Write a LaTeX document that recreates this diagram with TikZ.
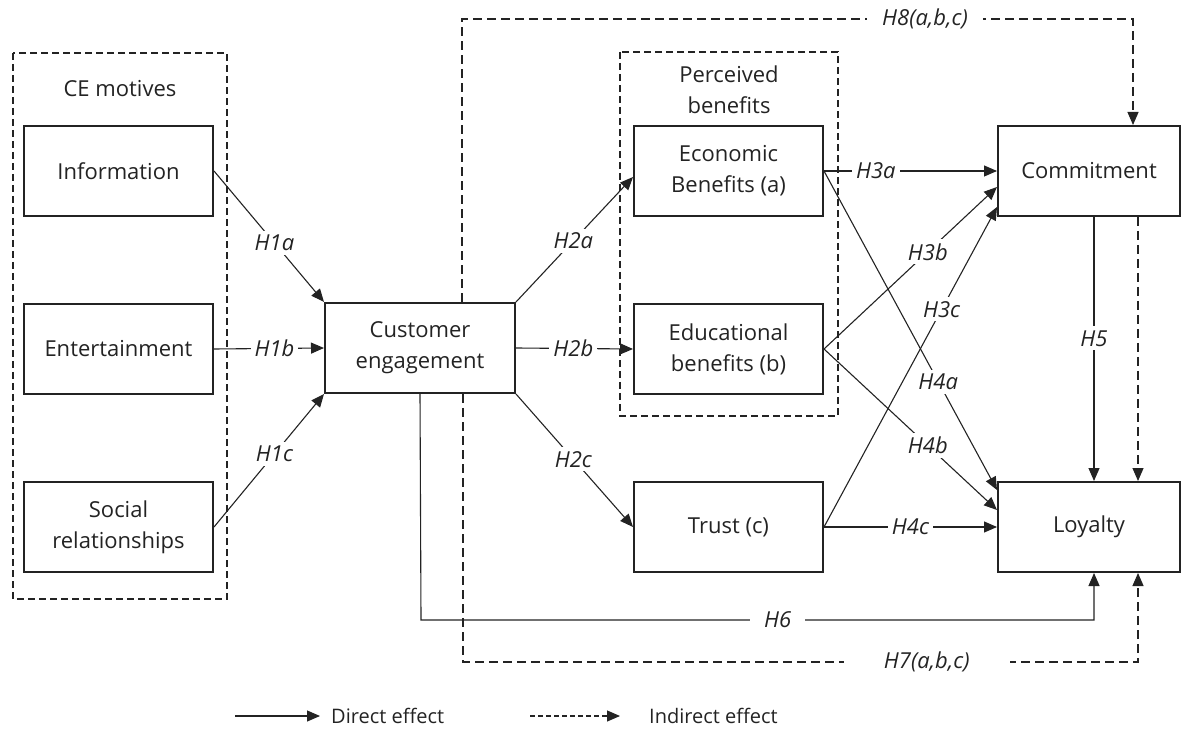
\documentclass[tikz,border=0pt]{standalone}
\usepackage{fontspec}
\setmainfont{Open Sans}
\usetikzlibrary{arrows.meta,positioning}
\definecolor{ink}{RGB}{35,35,35}

\begin{document}
\begin{tikzpicture}[x=0.5pt,y=-0.5pt,->,>={Triangle[length=6.5pt,width=5.5pt]},line width=0.55pt,color=ink,node distance=89pt,font=\fontsize{11}{15.5}\selectfont]
	\tikzstyle{box}=[draw,line width=1pt,minimum width=94.5pt,minimum height=45pt,align=center,inner sep=2pt]
	\tikzstyle{hyp}=[fill=white,font=\fontsize{11}{13}\selectfont\itshape,inner sep=2pt]
	\tikzstyle{indir}=[dash pattern=on 4.5pt off 2.5pt]
	\tikzstyle{group}=[draw,-,line width=1pt,dash pattern=on 3.5pt off 2pt]
	\tikzstyle{key}=[anchor=west,font=\fontsize{10}{12}\selectfont]

	\useasboundingbox (0,0) rectangle (1181,742);

	% dashed groups
	\draw[group] (13,53) rectangle (227,599);
	\draw[group] (620,52) rectangle (838,416);
	\node (motives) at (120,89) {CE motives};
	\node[align=center] (perceived) at (729,90) {Perceived\\benefits};

	\node[box] (info) at (118.5,171) {Information};
	\node[box] (ent) [below of=info] {Entertainment};
	\node[box] (soc) [below of=ent] {Social\\relationships};
	\node[box,minimum width=95pt] (ce) at (420,348) {Customer\\engagement};
	\node[box] (econ) at (728.5,171) {Economic\\Benefits (a)};
	\node[box] (edu) [below of=econ] {Educational\\benefits (b)};
	\node[box] (trust) [below of=edu] {Trust (c)};
	\node[box,minimum width=91pt] (comm) at (1089,171) {Commitment};
	\node[box,minimum width=91pt] (loyal) at (1089,527) {Loyalty};

	% direct effects
	\path (info.east) edge node[hyp,pos=.55] {H1a} (ce.north west)
	      (ent.east) edge node[hyp,pos=.55] {H1b} (ce.west)
	      (soc.east) edge node[hyp,pos=.55] {H1c} (ce.south west);
	\path (ce.north east) edge node[hyp,pos=.49] {H2a} ([yshift=-3pt]econ.west)
	      (ce.east) edge node[hyp,pos=.49] {H2b} (edu.west)
	      (ce.south east) edge node[hyp,pos=.49] {H2c} (trust.west);
	\path (econ.east) edge node[hyp,pos=.66] {H4a} ([yshift=18.5pt]loyal.west)
	      (edu.east) edge node[hyp,pos=.6] {H4b} ([yshift=8.5pt]loyal.west)
	      (trust.east) edge node[hyp,pos=.5] {H4c} (loyal.west);
	\path (econ.east) edge node[hyp,pos=.3] {H3a} (comm.west)
	      (edu.east) edge node[hyp,pos=.6] {H3b} ([yshift=-8pt]comm.west)
	      (trust.east) edge node[hyp,pos=.68] {H3c} ([yshift=-18pt]comm.west);
	\path ([xshift=2.5pt]comm.south) edge node[hyp,pos=.46] {H5} ([xshift=2.5pt]loyal.north);

	\coordinate (h6a) at (421,620);
	\coordinate (h6b) at (1094,620);
	\draw (ce.south) -- (h6a) -- node[hyp,pos=.53,inner xsep=7pt] {H6} (h6b) -- ([xshift=2.5pt]loyal.south);

	% indirect effects
	\coordinate (h7a) at (463,662);
	\coordinate (h7b) at (1138,662);
	\draw[indir] ([xshift=21.5pt]ce.south) -- (h7a) -- node[hyp,pos=.687,inner xsep=20pt] {H7(a,b,c)} (h7b) -- ([xshift=24.5pt]loyal.south);
	\coordinate (h8a) at (462,19);
	\coordinate (h8b) at (1133,19);
	\draw[indir] ([xshift=21pt]ce.north) -- (h8a) -- node[hyp,pos=.69,inner xsep=7.5pt] {H8(a,b,c)} (h8b) -- ([xshift=22pt]comm.north);
	\draw[indir] ([xshift=24.5pt]comm.south) -- ([xshift=24.5pt]loyal.north);

	% legend
	\coordinate (dstart) at (235,716);
	\coordinate (dend) at (320,716);
	\draw (dstart) -- (dend);
	\node[key] (direct) at (324,716) {Direct effect};
	\coordinate (istart) at (530,716);
	\coordinate (iend) at (620,716);
	\draw[dash pattern=on 2.5pt off 1.5pt] (istart) -- (iend);
	\node[key] (indirect) at (642,716) {Indirect effect};
\end{tikzpicture}
\end{document}
